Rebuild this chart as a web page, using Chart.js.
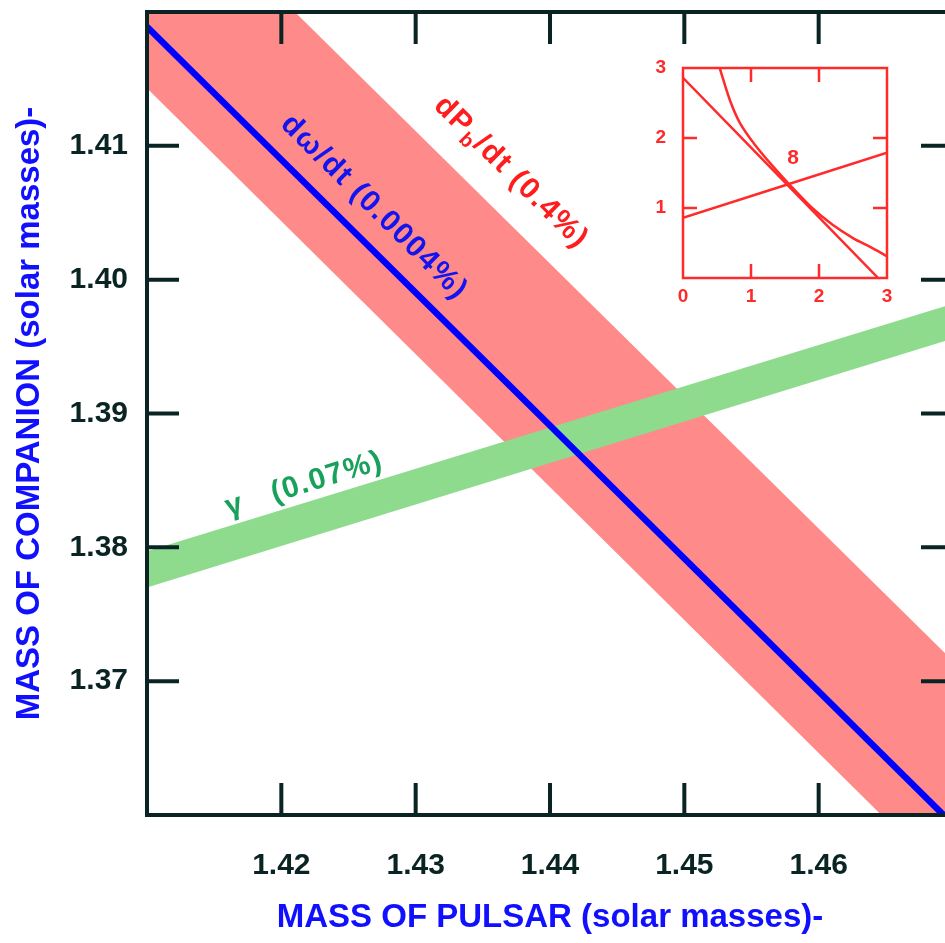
<!DOCTYPE html>
<html>
<head>
<meta charset="utf-8">
<script src="https://cdn.jsdelivr.net/npm/chart.js@4.4.0/dist/chart.umd.min.js"></script>
<style>
html, body { margin: 0; padding: 0; background: #fff; overflow: hidden; }
#wrap { position: relative; width: 945px; height: 943px; overflow: hidden; }
#main { position: absolute; left: 0; top: 0; }
#inset { position: absolute; left: 640px; top: 55px; }
</style>
</head>
<body>
<div id="wrap">
  <canvas id="main" width="960" height="943"></canvas>
  <canvas id="inset" width="260" height="260"></canvas>
</div>
<script>
// pulsar mass at the two ends of each constraint line
const pulsarEnds = [1.41, 1.47];
// companion mass along each constraint
const omegaDot = [1.4189, 1.3593];
const pbDotHigh = [1.4309, 1.3715];
const pbDotLow = [1.4143, 1.3547];
const gammaHigh = [1.3797, 1.3982];
const gammaLow = [1.3770, 1.3956];

const xTicks = [1.42, 1.43, 1.44, 1.45, 1.46];
const yTicks = [1.37, 1.38, 1.39, 1.40, 1.41];

// small inset, in units of solar masses
const insetLineAx = [0, 2.87];
const insetLineAy = [2.86, 0];
const insetCurveBx = [0.54, 0.69, 0.84, 1.06, 1.3, 1.57, 1.9, 2.2, 2.5, 2.8, 3.0];
const insetCurveBy = [3.0, 2.54, 2.21, 1.9, 1.62, 1.33, 1.0, 0.76, 0.57, 0.42, 0.31];
const insetLineCx = [0, 3];
const insetLineCy = [0.86, 1.79];
const insetXTicks = [0, 1, 2, 3];
const insetYTicks = [1, 2, 3];

const axisColor = '#0a2424';
const fontFam = '"Liberation Sans", Arial, sans-serif';

const pts = (xs, ys) => xs.map((x, i) => ({ x: x, y: ys[i] }));

const curveLabels = [
  { parts: [['dω/dt (0.0004%)']], at: [1.4269, 1.4054], along: omegaDot, color: '#1414f0', size: 30 },
  { parts: [['dP'], ['b', true], ['/dt (0.4%)']], at: [1.4371, 1.4080], along: pbDotHigh, color: '#ff1c1c', size: 30 },
  { parts: [['γ   (0.07%)']], at: [1.4217, 1.3847], along: gammaHigh, color: '#17a15a', size: 30 }
];

// drop the half-label paddings Chart.js adds so the plot box fills its area
const noEdgePad = s => { s.paddingTop = 0; s.paddingBottom = 0; s.paddingLeft = 0; s.paddingRight = 0; };

const framePlugin = {
  id: 'frame',
  afterDatasetsDraw(chart) {
    const { ctx, chartArea: a, scales: { x, y } } = chart;
    ctx.save();
    ctx.strokeStyle = axisColor;
    ctx.lineWidth = 4;
    ctx.strokeRect(a.left, a.top, a.right - a.left, a.bottom - a.top);
    ctx.beginPath();
    xTicks.forEach(v => {
      const px = x.getPixelForValue(v);
      ctx.moveTo(px, a.bottom); ctx.lineTo(px, a.bottom - 32);
      ctx.moveTo(px, a.top); ctx.lineTo(px, a.top + 32);
    });
    yTicks.forEach(v => {
      const py = y.getPixelForValue(v);
      ctx.moveTo(a.left, py); ctx.lineTo(a.left + 32, py);
      ctx.moveTo(a.right, py); ctx.lineTo(a.right - 32, py);
    });
    ctx.stroke();

    // labels along the constraint curves
    curveLabels.forEach(l => {
      const ang = Math.atan2(
        y.getPixelForValue(l.along[1]) - y.getPixelForValue(l.along[0]),
        x.getPixelForValue(pulsarEnds[1]) - x.getPixelForValue(pulsarEnds[0]));
      ctx.save();
      ctx.translate(x.getPixelForValue(l.at[0]), y.getPixelForValue(l.at[1]));
      ctx.rotate(ang);
      ctx.fillStyle = l.color;
      ctx.textBaseline = 'middle';
      ctx.letterSpacing = '1.5px';
      const fontFor = p => 'bold ' + (p[1] ? Math.round(l.size * 0.65) : l.size) + 'px ' + fontFam;
      let w = 0;
      l.parts.forEach(p => { ctx.font = fontFor(p); w += ctx.measureText(p[0]).width; });
      let cx = -w / 2;
      l.parts.forEach(p => {
        ctx.font = fontFor(p);
        ctx.fillText(p[0], cx, p[1] ? l.size * 0.3 : 0);
        cx += ctx.measureText(p[0]).width;
      });
      ctx.restore();
    });
    ctx.restore();
  }
};

const band = (xs, ys, color, fill, order) => ({
  data: pts(xs, ys),
  borderWidth: 0,
  borderColor: color,
  backgroundColor: color,
  pointRadius: 0,
  fill: fill,
  order: order
});

new Chart(document.getElementById('main'), {
  type: 'line',
  data: {
    datasets: [
      { data: pts(pulsarEnds, omegaDot), borderColor: '#0000ff', borderWidth: 6.5, pointRadius: 0, fill: false, order: 0 },
      band(pulsarEnds, gammaHigh, '#8edb8e', '+1', 1),
      band(pulsarEnds, gammaLow, '#8edb8e', false, 1),
      band(pulsarEnds, pbDotHigh, '#ff8a8a', '+1', 2),
      band(pulsarEnds, pbDotLow, '#ff8a8a', false, 2)
    ]
  },
  options: {
    responsive: false,
    animation: false,
    layout: { padding: { top: 12, right: 7, left: 0, bottom: 0 } },
    plugins: { legend: { display: false }, tooltip: { enabled: false } },
    scales: {
      x: {
        type: 'linear', min: 1.41, max: 1.47,
        afterBuildTicks: s => { s.ticks = xTicks.map(v => ({ value: v })); },
        afterFit: s => { s.height = 128; noEdgePad(s); },
        grid: { display: false, drawTicks: false },
        border: { display: false },
        ticks: {
          autoSkip: false, maxRotation: 0, padding: 33, color: axisColor,
          font: { family: fontFam, size: 30, weight: 'bold' },
          callback: v => v.toFixed(2)
        },
        title: {
          display: true, text: 'MASS OF PULSAR (solar masses)-', color: '#1010ff',
          font: { family: fontFam, size: 33, weight: 'bold' },
          padding: { top: 0, bottom: 5 }
        }
      },
      y: {
        type: 'linear', min: 1.36, max: 1.42,
        afterBuildTicks: s => { s.ticks = yTicks.map(v => ({ value: v })); },
        afterFit: s => { s.width = 147; noEdgePad(s); },
        grid: { display: false, drawTicks: false },
        border: { display: false },
        ticks: {
          autoSkip: false, padding: 19, color: axisColor,
          font: { family: fontFam, size: 30, weight: 'bold' },
          callback: v => v.toFixed(2)
        },
        title: {
          display: true, text: 'MASS OF COMPANION (solar masses)-', color: '#1010ff',
          font: { family: fontFam, size: 33, weight: 'bold' },
          padding: { top: 10, bottom: 0 }
        }
      }
    }
  },
  plugins: [framePlugin]
});

const insetRed = '#ff2a2a';
const insetPlugin = {
  id: 'insetFrame',
  afterDatasetsDraw(chart) {
    const { ctx, chartArea: a, scales: { x, y } } = chart;
    ctx.save();
    ctx.strokeStyle = insetRed;
    ctx.lineWidth = 2.5;
    ctx.strokeRect(a.left, a.top, a.right - a.left, a.bottom - a.top);
    ctx.beginPath();
    [1, 2].forEach(v => {
      const px = x.getPixelForValue(v), py = y.getPixelForValue(v);
      ctx.moveTo(px, a.bottom); ctx.lineTo(px, a.bottom - 14);
      ctx.moveTo(px, a.top); ctx.lineTo(px, a.top + 14);
      ctx.moveTo(a.left, py); ctx.lineTo(a.left + 14, py);
      ctx.moveTo(a.right, py); ctx.lineTo(a.right - 14, py);
    });
    ctx.stroke();
    ctx.fillStyle = insetRed;
    ctx.font = 'bold 21px ' + fontFam;
    ctx.textAlign = 'center';
    ctx.textBaseline = 'middle';
    ctx.fillText('8', x.getPixelForValue(1.62), y.getPixelForValue(1.71));
    ctx.restore();
  }
};

const insetLine = (xs, ys) => ({
  data: pts(xs, ys), borderColor: insetRed, borderWidth: 2.5, pointRadius: 0, fill: false, tension: 0.3
});

new Chart(document.getElementById('inset'), {
  type: 'line',
  data: {
    datasets: [
      insetLine(insetLineAx, insetLineAy),
      insetLine(insetCurveBx, insetCurveBy),
      insetLine(insetLineCx, insetLineCy)
    ]
  },
  options: {
    responsive: false,
    animation: false,
    layout: { padding: { top: 13, right: 13, left: 0, bottom: 0 } },
    plugins: { legend: { display: false }, tooltip: { enabled: false } },
    scales: {
      x: {
        type: 'linear', min: 0, max: 3,
        afterBuildTicks: s => { s.ticks = insetXTicks.map(v => ({ value: v })); },
        afterFit: s => { s.height = 37; noEdgePad(s); },
        grid: { display: false, drawTicks: false },
        border: { display: false },
        ticks: { autoSkip: false, maxRotation: 0, padding: 7, color: insetRed, font: { family: fontFam, size: 19, weight: 'bold' } }
      },
      y: {
        type: 'linear', min: 0, max: 3,
        afterBuildTicks: s => { s.ticks = insetYTicks.map(v => ({ value: v })); },
        afterFit: s => { s.width = 43; noEdgePad(s); },
        grid: { display: false, drawTicks: false },
        border: { display: false },
        ticks: { autoSkip: false, padding: 17, color: insetRed, font: { family: fontFam, size: 19, weight: 'bold' } }
      }
    }
  },
  plugins: [insetPlugin]
});
</script>
</body>
</html>
